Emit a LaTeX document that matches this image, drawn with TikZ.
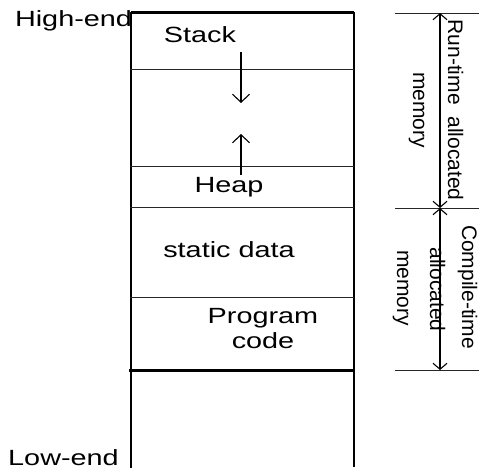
\documentclass[tikz,border=0pt]{standalone}
\usepackage{fontspec}
\setmainfont{Liberation Sans}
\usetikzlibrary{arrows.meta}
\tikzset{
  thinline/.style={line width=1pt, draw=black!85},
  wall/.style={line width=1.4pt, draw=black},
  thickline/.style={line width=3pt, draw=black},
  lbl/.style={inner sep=0pt, anchor=base, font=\fontsize{22}{24}\selectfont},
  vlbl/.style={inner sep=0pt, anchor=base, rotate=-90, font=\fontsize{21}{23}\selectfont},
  growarrow/.style={line width=1.1pt, -{Straight Barb[length=8pt,width=17pt]}},
  dimarrow/.style={line width=1.1pt, {Straight Barb[length=6pt,width=14pt]}-{Straight Barb[length=6pt,width=14pt]}}
}
\newcommand{\wide}[1]{\scalebox{1.31}[1]{#1}}
\begin{document}
\begin{tikzpicture}[x=1pt,y=-1pt]
\useasboundingbox (0,0) rectangle (479,471);
% box corners and divisions
\coordinate (tl) at (131,12);
\coordinate (tr) at (354,12);
\coordinate (bl) at (131,468);
\coordinate (br) at (354,467);
\coordinate (s1l) at (130,69);  \coordinate (s1r) at (354,69);
\coordinate (s2l) at (130,166); \coordinate (s2r) at (354,166);
\coordinate (s3l) at (130,207); \coordinate (s3r) at (354,207);
\coordinate (s4l) at (130,297); \coordinate (s4r) at (354,297);
\coordinate (s5l) at (129,370); \coordinate (s5r) at (354,370);
% walls
\draw[wall] (tl) -- (bl);
\draw[wall] (tr) -- (br);
\draw[thickline] (tl) -- (tr);
\draw[thinline] (s1l) -- (s1r);
\draw[thinline] (s2l) -- (s2r);
\draw[thinline] (s3l) -- (s3r);
\draw[thinline] (s4l) -- (s4r);
\draw[thickline] (s5l) -- (s5r);
% labels
\node[lbl] (high) at (73.5,26) {\wide{High-end}};
\node[lbl] (low) at (63.5,465) {\wide{Low-end}};
\node[lbl] (stack) at (200,42.5) {\wide{Stack}};
\node[lbl] (heap) at (229,192) {\wide{Heap}};
\node[lbl] (static) at (229,257) {\wide{static data}};
\node[lbl] (prog) at (263,323) {\wide{Program}};
\node[lbl] (code) at (263,348) {\wide{code}};
% growth arrows
\coordinate (sa) at (241,52);  \coordinate (sb) at (241,103);
\coordinate (ha) at (241,175); \coordinate (hb) at (241,134);
\draw[growarrow] (sa) -- (sb);
\draw[growarrow] (ha) -- (hb);
% dimension lines
\coordinate (d1l) at (395,13);  \coordinate (d1r) at (479,13);
\coordinate (d2l) at (395,208); \coordinate (d2r) at (479,208);
\coordinate (d3l) at (395,370); \coordinate (d3r) at (479,370);
\draw[thinline] (d1l) -- (d1r);
\draw[thinline] (d2l) -- (d2r);
\draw[thinline] (d3l) -- (d3r);
\coordinate (dt) at (440,13);
\coordinate (dm) at (440,208);
\coordinate (db) at (440,370);
\draw[dimarrow] (dt) -- (dm);
\draw[dimarrow] (dm) -- (db);
% rotated labels
\node[vlbl] (rt) at (448,110) {Run-time\ \ allocated};
\node[vlbl] (rtm) at (413,110) {memory};
\node[vlbl] (ct) at (462,287) {Compile-time};
\node[vlbl] (cta) at (430,289.5) {allocated};
\node[vlbl] (ctm) at (397,288) {memory};
\end{tikzpicture}
\end{document}
